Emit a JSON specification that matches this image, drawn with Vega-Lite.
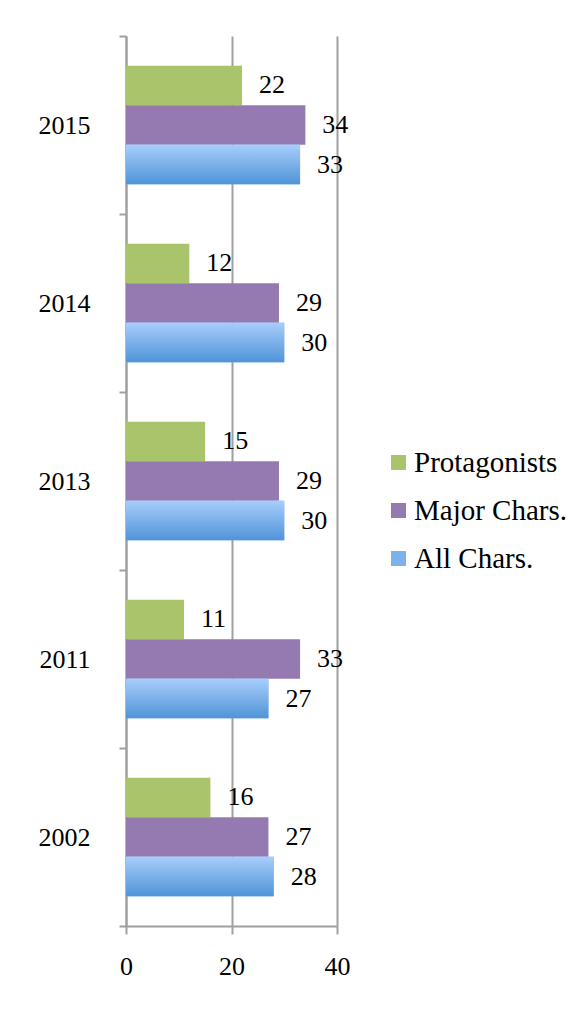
{
  "$schema": "https://vega.github.io/schema/vega-lite/v6.json",
  "width": 211,
  "height": 890,
  "autosize": {"type": "none"},
  "padding": {"left": 126, "top": 36, "right": 242, "bottom": 83},
  "background": "white",
  "config": {"view": {"stroke": null}, "font": "Liberation Serif"},
  "data": {
    "values": [
      {"year": "2015", "series": "Protagonists", "value": 22},
      {"year": "2015", "series": "Major Chars.", "value": 34},
      {"year": "2015", "series": "All Chars.", "value": 33},
      {"year": "2014", "series": "Protagonists", "value": 12},
      {"year": "2014", "series": "Major Chars.", "value": 29},
      {"year": "2014", "series": "All Chars.", "value": 30},
      {"year": "2013", "series": "Protagonists", "value": 15},
      {"year": "2013", "series": "Major Chars.", "value": 29},
      {"year": "2013", "series": "All Chars.", "value": 30},
      {"year": "2011", "series": "Protagonists", "value": 11},
      {"year": "2011", "series": "Major Chars.", "value": 33},
      {"year": "2011", "series": "All Chars.", "value": 27},
      {"year": "2002", "series": "Protagonists", "value": 16},
      {"year": "2002", "series": "Major Chars.", "value": 27},
      {"year": "2002", "series": "All Chars.", "value": 28}
    ]
  },
  "encoding": {
    "y": {
      "field": "year",
      "type": "nominal",
      "sort": ["2015", "2014", "2013", "2011", "2002"],
      "scale": {"paddingInner": 0, "paddingOuter": 0},
      "axis": {
        "title": null,
        "tickBand": "extent",
        "domainColor": "#a0a0a0",
        "domainWidth": 2,
        "tickColor": "#a0a0a0",
        "tickWidth": 2,
        "tickSize": 7,
        "labelFontSize": 26,
        "labelColor": "black",
        "labelPadding": 29,
        "grid": false
      }
    },
    "yOffset": {
      "field": "series",
      "type": "nominal",
      "sort": ["Protagonists", "Major Chars.", "All Chars."],
      "scale": {"paddingOuter": 0.753, "paddingInner": 0}
    },
    "x": {
      "field": "value",
      "type": "quantitative",
      "scale": {"domain": [0, 40]},
      "axis": {
        "values": [0, 20, 40],
        "title": null,
        "grid": true,
        "gridColor": "#a0a0a0",
        "gridWidth": 2,
        "domainColor": "#a0a0a0",
        "domainWidth": 2,
        "tickColor": "#a0a0a0",
        "tickWidth": 2,
        "tickSize": 8,
        "labelFontSize": 26,
        "labelColor": "black",
        "labelPadding": 19,
        "labelFlush": false
      }
    }
  },
  "layer": [
    {
      "mark": {"type": "bar"},
      "encoding": {
        "color": {
          "field": "series",
          "type": "nominal",
          "sort": ["Protagonists", "Major Chars.", "All Chars."],
          "scale": {
            "domain": ["Protagonists", "Major Chars.", "All Chars."],
            "range": ["#a9c46b", "#947ab1", "#7cb1ea"]
          },
          "legend": {
            "orient": "none",
            "legendX": 258,
            "legendY": 412,
            "title": null,
            "symbolType": "square",
            "symbolSize": 225,
            "symbolStrokeWidth": 0,
            "labelFontSize": 29,
            "labelColor": "black",
            "labelOffset": 1,
            "rowPadding": 18,
            "padding": 0
          }
        }
      }
    },
    {
      "transform": [{"filter": "datum.series === 'All Chars.'"}],
      "mark": {
        "type": "bar",
        "fill": {
          "gradient": "linear",
          "x1": 0, "y1": 0, "x2": 0, "y2": 1,
          "stops": [
            {"offset": 0, "color": "#a8cdfb"},
            {"offset": 1, "color": "#4f94d8"}
          ]
        }
      },
      "encoding": {}
    },
    {
      "mark": {"type": "text", "align": "left", "baseline": "middle", "dx": 17, "fontSize": 26, "color": "black"},
      "encoding": {"text": {"field": "value", "type": "quantitative"}}
    }
  ]
}
